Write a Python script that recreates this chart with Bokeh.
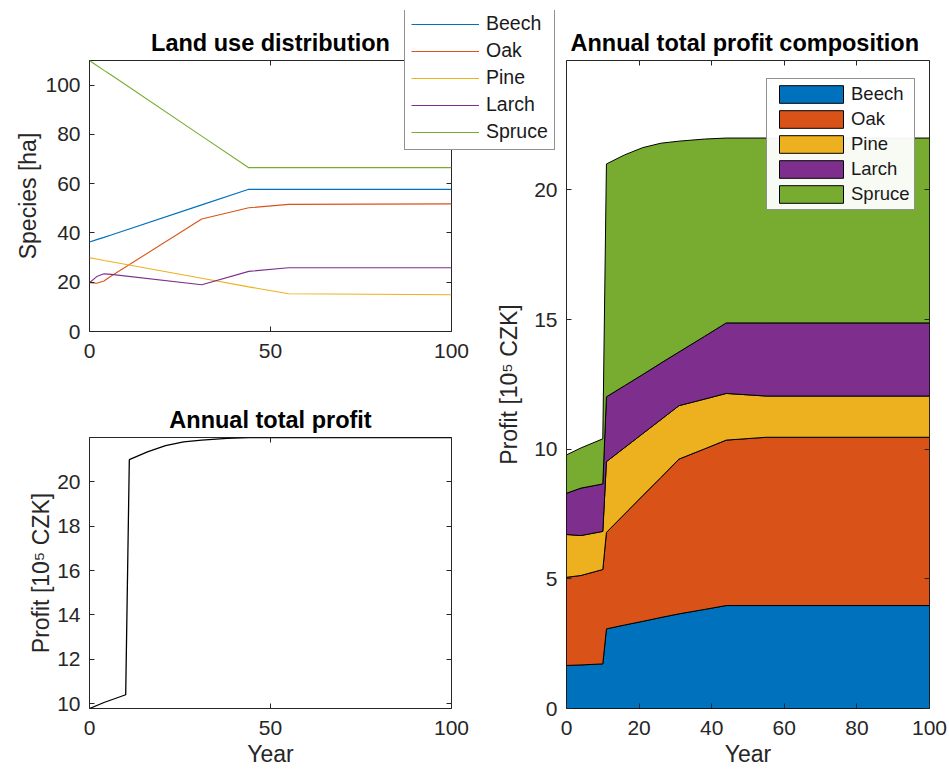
import numpy as np
from bokeh.plotting import figure
from bokeh.models import (Range1d, FixedTicker, LinearAxis, CustomJSTickFormatter,
                          Legend, LegendItem)
from bokeh.layouts import column, row
from bokeh.embed import file_html
from bokeh.resources import INLINE

# ---------------- data ----------------
species = ["Beech", "Oak", "Pine", "Larch", "Spruce"]

land_years = [0, 2, 4, 6, 31, 44, 55, 100]
beech_ha = [36.3, 37.3, 38.2, 39.2, 51.4, 57.7, 57.7, 57.7]
oak_ha = [19.8, 19.6, 20.5, 22.5, 45.7, 50.2, 51.6, 51.8]
pine_ha = [29.9, 29.4, 28.8, 28.3, 21.6, 18.1, 15.3, 14.9]
larch_ha = [19.8, 22.3, 23.4, 23.2, 19.0, 24.4, 25.9, 25.9]
spruce_ha = [110.0, 108.0, 106.0, 104.1, 79.3, 66.5, 66.5, 66.5]

profit_years = [0, 4, 10, 11, 16, 21, 26, 31, 38, 44, 55, 100]
beech_profit = [1.66, 1.68, 1.72, 3.07, 3.22, 3.36, 3.51, 3.65, 3.82, 3.97, 3.97, 3.97]
oak_profit = [3.40, 3.45, 3.64, 3.72, 4.28, 4.85, 5.40, 5.97, 6.19, 6.38, 6.49, 6.49]
pine_profit = [1.65, 1.54, 1.47, 2.73, 2.56, 2.39, 2.23, 2.06, 1.92, 1.80, 1.59, 1.59]
larch_profit = [1.59, 1.83, 1.83, 2.50, 2.39, 2.28, 2.18, 2.07, 2.42, 2.72, 2.82, 2.82]
spruce_profit = [1.48, 1.55, 1.74, 8.98, 8.90, 8.75, 8.48, 8.13, 7.61, 7.13, 7.13, 7.13]

land_yticks = [0, 20, 40, 60, 80, 100]
land_xticks = [0, 50, 100]
total_yticks = [10, 12, 14, 16, 18, 20]
total_xticks = [0, 50, 100]
comp_yticks = [0, 5, 10, 15, 20]
comp_xticks = [0, 20, 40, 60, 80, 100]

# ---------------- style ----------------
FONT = "Liberation Sans"
AX = "#262626"
colors = ["#0072BD", "#D95319", "#EDB120", "#7E2F8E", "#77AC30"]


def style(p, xticks, yticks, xlabel=None, ylabel=None, ylabel_standoff=0):
    p.xgrid.visible = False
    p.ygrid.visible = False
    p.outline_line_color = AX
    p.outline_line_width = 1
    p.title.align = "center"
    p.title.text_font = FONT
    p.title.text_font_size = "23.5px"
    p.title.text_font_style = "bold"
    p.title.text_color = "#000000"
    p.title.standoff = 9
    for ax, ticks in ((p.xaxis[0], xticks), (p.yaxis[0], yticks)):
        ax.ticker = FixedTicker(ticks=ticks)
        ax.axis_line_color = None
        ax.major_tick_line_color = AX
        ax.major_tick_in = 5
        ax.major_tick_out = 0
        ax.minor_tick_line_color = None
        ax.major_label_text_font = FONT
        ax.major_label_text_font_size = "21px"
        ax.major_label_text_color = AX
        ax.axis_label_text_font = FONT
        ax.axis_label_text_font_size = "23px"
        ax.axis_label_text_font_style = "normal"
        ax.axis_label_text_color = AX
    p.xaxis[0].major_label_standoff = 12
    p.yaxis[0].major_label_standoff = 9
    if xlabel:
        p.xaxis[0].axis_label = xlabel
        p.xaxis[0].axis_label_standoff = 3
    if ylabel:
        p.yaxis[0].axis_label = ylabel
        p.yaxis[0].axis_label_standoff = ylabel_standoff
    for loc, ticks in (("right", yticks), ("above", xticks)):
        a = LinearAxis(ticker=FixedTicker(ticks=ticks),
                       formatter=CustomJSTickFormatter(code="return ''"),
                       axis_line_color=None, major_tick_line_color=AX,
                       major_tick_in=5, major_tick_out=0,
                       minor_tick_line_color=None, major_label_standoff=0,
                       major_label_text_font_size="1px")
        p.add_layout(a, loc)


land = [beech_ha, oak_ha, pine_ha, larch_ha, spruce_ha]

# ---------------- top-left: land use ----------------
p1 = figure(width=480, height=380, output_backend="svg", toolbar_location=None,
            x_range=Range1d(0, 100), y_range=Range1d(0, 110),
            title="Land use distribution",
            min_border_left=89, min_border_right=29, min_border_top=60, min_border_bottom=49)
for name, vals, c in zip(species, land, colors):
    p1.line(land_years, vals, line_color=c, line_width=1.1)
style(p1, land_xticks, land_yticks, ylabel="Species [ha]", ylabel_standoff=1)

# legend of the land-use plot: it sits over the corner between the panels,
# so it lives in its own transparent overlay figure (frame spans y 10..155)
lf = figure(width=200, height=270, output_backend="svg", toolbar_location=None,
            title=None, x_axis_type=None, y_axis_type=None,
            x_range=Range1d(1000, 1001), y_range=Range1d(1000, 1001),
            min_border_left=0, min_border_right=0, min_border_top=0, min_border_bottom=0)
lf.outline_line_color = None
lf.border_fill_color = None
lf.background_fill_color = None
lf.xgrid.visible = False
lf.ygrid.visible = False
items = []
for name, vals, c in zip(species, land, colors):
    r = lf.line(land_years, vals, line_color=c, line_width=1.1)
    items.append(LegendItem(label=name, renderers=[r]))
lg = Legend(items=items, location=(1, 5), margin=0, padding=6, spacing=4,
            glyph_width=68, glyph_height=22, label_height=22, label_standoff=7,
            label_text_font=FONT, label_text_font_size="19.5px",
            label_text_color="#1a1a1a", border_line_color=AX, border_line_width=1,
            background_fill_color="white", background_fill_alpha=1)
lf.add_layout(lg, "center")

# ---------------- data for profit ----------------
profit = np.array([beech_profit, oak_profit, pine_profit, larch_profit, spruce_profit])
cum = np.cumsum(profit, axis=0)
lower = np.vstack([np.zeros(len(profit_years)), cum[:-1]])
total_profit = cum[-1]

# ---------------- bottom-left: annual total profit ----------------
p2 = figure(width=480, height=393, output_backend="svg", toolbar_location=None,
            x_range=Range1d(0, 100),
            y_range=Range1d(float(total_profit.min()), float(total_profit.max())),
            title="Annual total profit",
            min_border_left=89, min_border_right=29, min_border_top=57, min_border_bottom=65)
p2.line(profit_years, total_profit, line_color="black", line_width=1.3)
style(p2, total_xticks, total_yticks, xlabel="Year", ylabel="Profit [10\u2075 CZK]",
      ylabel_standoff=0)

# ---------------- right: composition ----------------
p3 = figure(width=467, height=773, output_backend="svg", toolbar_location=None,
            x_range=Range1d(0, 100), y_range=Range1d(0, 24.99),
            title="Annual total  profit composition",
            min_border_left=86, min_border_right=18, min_border_top=60, min_border_bottom=65)
p3.border_fill_color = None
p3.background_fill_color = "white"
for i, name in enumerate(species):
    xs = list(profit_years) + list(profit_years[::-1])
    ys = list(cum[i]) + list(lower[i][::-1])
    p3.patch(xs, ys, fill_color=colors[i], line_color="black", line_width=1,
             legend_label=name)
style(p3, comp_xticks, comp_yticks, xlabel="Year", ylabel="Profit [10\u2075 CZK]",
      ylabel_standoff=9)
lg3 = p3.legend[0]
lg3.location = (200, 498)
lg3.margin = 0
lg3.padding = 4
lg3.spacing = 3
lg3.glyph_width = 80
lg3.glyph_height = 22
lg3.label_height = 22
lg3.label_standoff = 0
lg3.label_text_font = FONT
lg3.label_text_font_size = "18.5px"
lg3.label_text_color = "#1a1a1a"
lg3.border_line_color = AX
lg3.border_line_width = 1

lf.margin = (-50, 0, 0, 403 - (480 + 467))

layout = row(column(p1, p2, spacing=0), p3, lf, spacing=0)
open("out.html", "w").write(file_html(layout, INLINE))
